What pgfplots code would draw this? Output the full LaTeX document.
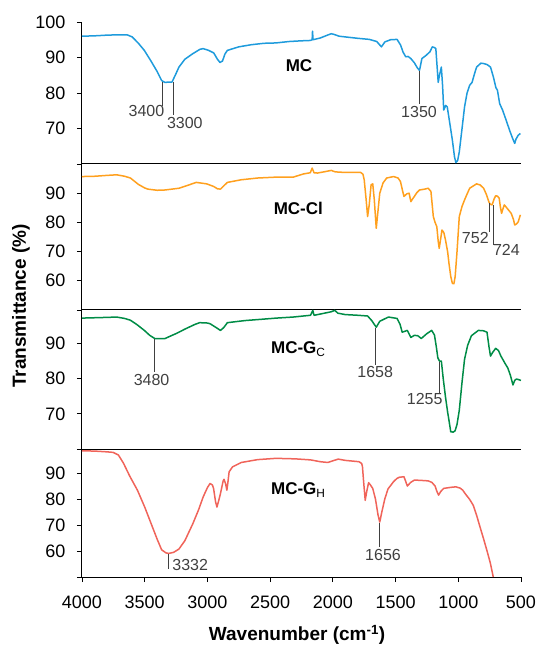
\documentclass[border=0pt]{standalone}
\usepackage{fontspec}
\setmainfont{Liberation Sans}
\usepackage{pgfplots}
\pgfplotsset{compat=1.18}

\definecolor{mcblue}{RGB}{30,155,220}
\definecolor{mcorange}{RGB}{255,160,30}
\definecolor{mcgreen}{RGB}{0,140,70}
\definecolor{mcred}{RGB}{240,100,90}
\definecolor{annot}{RGB}{64,64,64}

\tikzset{
  ann/.style={annot, line width=0.6pt},
  annlab/.style={text=annot, font=\fontsize{16}{18}\selectfont, inner sep=0.5pt},
  plab/.style={font=\fontsize{17}{19}\selectfont\bfseries},
}

\pgfplotsset{
  panel/.style={
    scale only axis,
    width=439pt,
    x dir=reverse,
    xmin=500, xmax=4000,
    axis x line*=bottom,
    axis y line*=left,
    axis line style={-, line width=1pt, black},
    tick align=outside,
    major tick length=5pt,
    tick style={black, line width=0.9pt},
    ytick pos=left,
    xtick=\empty,
    clip=false,
    ticklabel style={font=\fontsize{18}{20}\selectfont},
    yticklabel style={xshift=-8pt},
    /pgf/number format/assume math mode=true,
    /pgf/number format/1000 sep={},
    every axis plot/.append style={line width=1.5pt, line join=round},
  },
}

\begin{document}
\begin{tikzpicture}

% ---- MC ----
\begin{axis}[panel, at={(0pt,0pt)}, anchor=north west, height=142pt,
  ymin=60, ymax=100, ytick={60,70,80,90,100}, yticklabels={,70,80,90,100}]
\addplot[mcblue] coordinates {
(4000,96.0) (3900,96.1) (3800,96.3) (3700,96.4) (3641,96.4) (3600,95.8) (3550,94.0)
(3503,92.0) (3450,89.0) (3400,86.0) (3365,83.5) (3340,83.0) (3282,83.1) (3250,85.5)
(3227,87.3) (3180,89.5) (3120,91.0) (3060,92.3) (3034,92.5) (2990,92.0) (2950,91.3)
(2920,89.5) (2900,88.6) (2880,89.0) (2860,91.0) (2841,92.0) (2750,93.0) (2650,93.6)
(2550,94.0) (2454,94.1) (2350,94.5) (2250,94.7) (2178,94.8) (2165,95.0) (2162,97.4)
(2158,95.0) (2100,95.5) (2050,96.2) (2013,96.7) (1990,96.5) (1950,96.0) (1902,95.8)
(1800,95.4) (1709,95.1) (1650,94.5) (1613,93.0) (1585,94.4) (1540,95.0) (1488,95.1)
(1460,93.5) (1440,91.5) (1419,90.2) (1400,90.3) (1378,89.7) (1350,88.5) (1325,87.0)
(1309,86.4) (1290,89.7) (1260,90.5) (1226,91.6) (1207,93.0) (1190,92.8) (1179,92.5)
(1170,88.0) (1160,83.0) (1150,85.0) (1135,87.3) (1125,82.0) (1116,75.2) (1100,76.5)
(1088,76.1) (1070,72.0) (1047,66.7) (1030,62.0) (1019,60.4) (1005,61.0) (992,63.4)
(970,70.0) (950,76.1) (930,80.0) (909,82.2) (890,83.0) (870,85.5) (854,87.3)
(820,88.4) (798,88.3) (770,88.0) (743,87.3) (720,84.5) (700,81.5) (688,80.8)
(670,77.0) (647,75.2) (620,72.5) (591,69.5) (570,67.5) (550,65.8) (540,67.0)
(522,68.1) (505,68.6)
};
\draw[ann] (axis cs:3357,83.2) -- (axis cs:3357,76.2);
\draw[ann] (axis cs:3272,83.2) -- (axis cs:3272,73.9);
\draw[ann] (axis cs:1309,86.2) -- (axis cs:1309,76.9);
\node[annlab, anchor=north] at (axis cs:3486,76.6) {3400};
\node[annlab, anchor=north] at (axis cs:3180,73.4) {3300};
\node[annlab, anchor=north] at (axis cs:1313,76.5) {1350};
\node[plab] at (axis cs:2270,87.6) {MC};
\end{axis}

% ---- MC-Cl ----
\begin{axis}[panel, at={(0pt,-142pt)}, anchor=north west, height=146pt,
  ymin=50, ymax=100, ytick={50,60,70,80,90}, yticklabels={,60,70,80,90}]
\addplot[mcorange] coordinates {
(4000,95.7) (3900,95.8) (3800,96.1) (3724,96.3) (3660,95.8) (3614,95.2) (3550,93.0)
(3500,91.8) (3476,91.4) (3400,91.0) (3338,91.1) (3227,91.7) (3150,92.8) (3089,93.7)
(3006,93.2) (2950,92.3) (2920,91.5) (2896,91.4) (2870,92.5) (2841,93.7) (2730,94.6)
(2600,95.2) (2454,95.5) (2316,95.5) (2234,96.6) (2180,97.0) (2165,98.6) (2150,97.0)
(2123,96.9) (2060,97.4) (2013,97.8) (1980,97.3) (1902,97.1) (1778,97.1) (1760,96.5)
(1750,94.6) (1735,88.0) (1723,82.0) (1710,86.0) (1695,92.9) (1682,93.2) (1670,88.0)
(1654,78.0) (1640,84.0) (1626,90.0) (1600,93.5) (1571,95.2) (1516,95.7) (1480,95.2)
(1461,94.0) (1445,91.0) (1433,88.9) (1410,89.8) (1392,90.0) (1378,87.1) (1365,88.0)
(1350,88.9) (1330,90.2) (1309,91.1) (1267,91.4) (1240,91.7) (1218,90.6) (1199,82.0)
(1185,80.0) (1171,78.5) (1160,73.5) (1152,71.1) (1140,74.5) (1130,77.4) (1115,76.5)
(1102,74.0) (1085,70.0) (1074,65.9) (1060,61.5) (1047,59.1) (1035,59.0) (1025,61.4)
(1010,70.0) (992,82.0) (970,85.5) (950,87.7) (930,89.7) (909,91.7) (880,92.5)
(854,93.2) (825,92.8) (798,91.7) (775,89.5) (757,87.1) (745,86.2) (730,86.0)
(715,88.0) (702,89.1) (688,89.0) (674,88.3) (665,85.5) (655,83.1) (645,84.5)
(633,86.0) (610,84.8) (578,83.1) (560,81.0) (550,79.1) (535,79.5) (522,80.2)
(505,82.6)
};
\draw[ann] (axis cs:749,86.6) -- (axis cs:749,76.8);
\draw[ann] (axis cs:721,86.0) -- (axis cs:721,72.2);
\node[annlab, anchor=north east] at (axis cs:752,76.8) {752};
\node[annlab, anchor=north west] at (axis cs:728,72.6) {724};
\node[plab] at (axis cs:2275,84.8) {MC-Cl};
\end{axis}

% ---- MC-Gc ----
\begin{axis}[panel, at={(0pt,-288pt)}, anchor=north west, height=139pt,
  ymin=60, ymax=99.5, ytick={60,70,80,90}, yticklabels={,70,80,90}]
\addplot[mcgreen] coordinates {
(4000,97.2) (3900,97.3) (3800,97.4) (3724,97.5) (3660,97.1) (3614,96.6) (3560,95.3)
(3503,93.7) (3460,92.3) (3420,91.4) (3338,91.4) (3250,92.8) (3172,94.2) (3100,95.4)
(3062,95.9) (3000,95.8) (2979,95.6) (2930,94.5) (2896,93.7) (2870,94.5) (2841,95.9)
(2700,96.5) (2592,96.8) (2450,97.2) (2316,97.5) (2178,98.0) (2160,99.4) (2150,98.0)
(2080,98.5) (2013,99.0) (1985,99.4) (1960,98.6) (1902,98.2) (1800,98.0) (1723,97.8)
(1690,96.5) (1654,94.6) (1626,96.3) (1557,97.5) (1488,97.1) (1465,95.5) (1447,93.2)
(1406,93.7) (1378,91.7) (1350,92.3) (1323,92.2) (1295,91.4) (1250,92.8) (1212,93.7)
(1190,92.4) (1175,89.0) (1163,85.9) (1150,85.0) (1135,85.0) (1120,80.0) (1102,74.8)
(1085,70.5) (1074,68.1) (1060,64.9) (1040,64.8) (1025,65.2) (1010,67.0) (992,71.0)
(970,79.0) (950,85.5) (925,89.5) (895,92.2) (840,93.7) (800,93.6) (771,93.2)
(755,89.0) (743,86.4) (725,87.5) (702,88.6) (680,88.0) (660,86.4) (630,84.5)
(605,83.0) (585,81.0) (564,78.2) (550,79.5) (536,79.9) (500,79.5)
};
\draw[ann] (axis cs:3420,91.2) -- (axis cs:3420,81.8);
\draw[ann] (axis cs:1660,94.4) -- (axis cs:1660,84.0);
\draw[ann] (axis cs:1152,84.8) -- (axis cs:1152,75.8);
\node[annlab, anchor=north] at (axis cs:3445,81.3) {3480};
\node[annlab, anchor=north] at (axis cs:1662,83.8) {1658};
\node[annlab, anchor=north] at (axis cs:1268,76.0) {1255};
\node[plab] at (axis cs:2275,88.4) {MC-G\textsubscript{\mdseries C}};
\end{axis}

% ---- MC-Gh ----
\begin{axis}[panel, at={(0pt,-427pt)}, anchor=north west, height=128pt,
  ymin=50, ymax=99.4, ytick={50,60,70,80,90}, yticklabels={,60,70,80,90},
  xtick={500,1000,...,4000}, xtick pos=lower,
  xticklabel style={yshift=-10pt},
  xlabel={Wavenumber (cm\textsuperscript{-1})},
  xlabel style={font=\fontsize{19}{21}\selectfont\bfseries, at={(axis description cs:0.49,0)}, anchor=center, yshift=-58pt}]
\addplot[mcred] coordinates {
(4000,98.7) (3900,98.6) (3800,98.3) (3752,98.1) (3710,97.1) (3669,93.9) (3620,89.0)
(3558,83.5) (3500,77.0) (3448,70.5) (3400,64.5) (3365,60.5) (3330,59.3) (3310,59.1)
(3270,59.5) (3227,60.8) (3180,64.0) (3117,70.5) (3070,76.0) (3034,80.9) (3000,84.5)
(2979,86.1) (2960,85.5) (2951,84.2) (2935,79.0) (2924,77.0) (2910,79.5) (2896,82.2)
(2875,87.0) (2868,87.7) (2855,86.0) (2845,83.5) (2838,86.0) (2827,90.6) (2800,92.5)
(2730,94.2) (2600,95.3) (2454,95.8) (2300,95.6) (2178,95.2) (2100,94.5) (2040,94.2)
(1990,95.0) (1957,95.5) (1900,95.0) (1792,94.5) (1770,93.8) (1764,92.6) (1755,87.0)
(1742,79.6) (1730,83.0) (1715,86.4) (1700,85.5) (1682,84.2) (1660,80.0) (1640,74.0)
(1626,71.2) (1610,75.0) (1585,80.3) (1560,84.0) (1516,86.8) (1490,88.0) (1470,88.5)
(1433,88.7) (1420,87.0) (1406,85.1) (1380,86.5) (1350,87.4) (1300,87.3) (1240,87.1)
(1210,86.5) (1185,85.1) (1170,83.0) (1157,81.6) (1140,83.0) (1116,84.2) (1060,84.6)
(1019,84.8) (985,84.3) (964,83.5) (950,82.5) (936,81.6) (910,80.0) (881,77.7)
(855,74.0) (826,69.2) (800,65.0) (771,60.1) (745,55.5) (721,50.0)
};
\draw[ann] (axis cs:3315,58.8) -- (axis cs:3315,53.0);
\draw[ann] (axis cs:1632,70.8) -- (axis cs:1632,61.4);
\node[annlab, anchor=west] at (axis cs:3285,54.5) {3332};
\node[annlab, anchor=north] at (axis cs:1600,61.0) {1656};
\node[plab] at (axis cs:2275,83.5) {MC-G\textsubscript{\mdseries H}};
\end{axis}

\node[rotate=90, font=\fontsize{19}{21}\selectfont\bfseries] at (-61pt,-284pt) {Transmittance (\%)};

\pgfresetboundingbox
\path[use as bounding box] (-82pt,22pt) rectangle (460pt,-625pt);
\end{tikzpicture}
\end{document}
